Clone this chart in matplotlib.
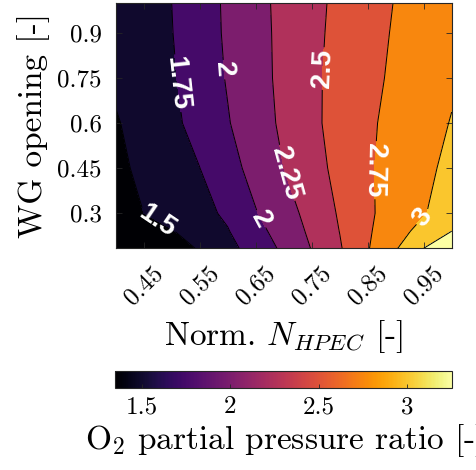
import numpy as np
import matplotlib.pyplot as plt
from matplotlib import colors, cm

plt.rcParams['font.family'] = 'serif'
plt.rcParams['font.serif'] = ['cmr10']
plt.rcParams['mathtext.fontset'] = 'cm'
plt.rcParams['axes.formatter.use_mathtext'] = True

# normalised HPEC speed (columns) and wastegate opening (rows)
n_hpec = [0.40, 0.45, 0.50, 0.55, 0.60, 0.65, 0.70, 0.75, 0.80, 0.85, 0.90, 0.95, 1.00]
wg_open = [0.183, 0.24, 0.30, 0.45, 0.60, 0.75, 0.90, 1.00]

# O2 partial pressure ratio, one row per WG opening
o2_ratio = [
    [1.35, 1.40, 1.45, 1.51, 1.679, 1.852, 2.047, 2.259, 2.478, 2.734, 2.98, 3.25, 3.27],
    [1.39, 1.439, 1.488, 1.602, 1.737, 1.92, 2.107, 2.296, 2.504, 2.72, 2.908, 3.083, 3.25],
    [1.41, 1.50, 1.589, 1.679, 1.79, 1.988, 2.153, 2.329, 2.526, 2.713, 2.853, 2.982, 3.15],
    [1.448, 1.548, 1.648, 1.748, 1.913, 2.081, 2.25, 2.41, 2.568, 2.722, 2.838, 2.946, 3.06],
    [1.49, 1.546, 1.70, 1.83, 1.985, 2.139, 2.294, 2.45, 2.586, 2.712, 2.82, 2.92, 3.01],
    [1.52, 1.623, 1.725, 1.866, 2.017, 2.163, 2.308, 2.453, 2.577, 2.689, 2.791, 2.88, 2.97],
    [1.53, 1.637, 1.743, 1.888, 2.033, 2.172, 2.309, 2.444, 2.5625, 2.67, 2.773, 2.861, 2.95],
    [1.53, 1.64, 1.75, 1.894, 2.037, 2.179, 2.3125, 2.4375, 2.552, 2.656, 2.76, 2.855, 2.93],
]

levels = [1.5, 1.75, 2.0, 2.25, 2.5, 2.75, 3.0, 3.25]
label_pos = [(0.473, 0.271), (0.509, 0.732), (0.587, 0.777), (0.656, 0.277),
             (0.694, 0.427), (0.766, 0.782), (0.856, 0.443), (0.948, 0.288)]
flip_labels = ['2.75']
xtick_vals = [0.45, 0.55, 0.65, 0.75, 0.85, 0.95]
ytick_vals = [0.3, 0.45, 0.6, 0.75, 0.9]
cbar_ticks = [1.5, 2, 2.5, 3]

X, Y = np.meshgrid(n_hpec, wg_open)
Z = np.array(o2_ratio)

# each band takes the colour of its lower level
norm = colors.Normalize(vmin=1.35, vmax=3.255)
cmap = plt.get_cmap('inferno')
fill_levels = [Z.min() - 0.01] + levels + [Z.max() + 0.01]
fill_colors = [cmap(norm(v)) for v in [Z.min()] + levels]

fig = plt.figure(figsize=(4.76, 4.70), dpi=100)
ax = fig.add_axes([0.243, 0.4717, 0.706, 0.522])
ax.contourf(X, Y, Z, levels=fill_levels, colors=fill_colors)
cs = ax.contour(X, Y, Z, levels=levels, colors='k', linewidths=0.7)

with plt.rc_context({'font.family': 'Liberation Sans', 'font.weight': 'bold'}):
    lbls = ax.clabel(cs, levels=levels[:-1], manual=label_pos, inline=True,
                     fmt='%g', fontsize=20, colors='white', inline_spacing=2)
for t in lbls:
    if t.get_text() in flip_labels:
        t.set_rotation(t.get_rotation() - 180)

ax.set_xlim(0.4, 1.0)
ax.set_ylim(0.183, 1.0)
ax.set_xticks(xtick_vals)
ax.set_xticklabels([f'{v:g}' for v in xtick_vals], rotation=45)
ax.set_yticks(ytick_vals)
ax.set_yticklabels([f'{v:g}' for v in ytick_vals])
ax.tick_params(direction='in', top=True, right=True, labelsize=18, length=4,
               width=0.6, color='#262626', pad=10)
for s in ax.spines.values():
    s.set_color('#262626')
    s.set_linewidth(0.8)
ax.set_xlabel(r'Norm. $N_{HPEC}$ [-]', fontsize=24, labelpad=6)
ax.set_ylabel('WG opening [-]', fontsize=24, labelpad=5)

cax = fig.add_axes([0.2416, 0.175, 0.7084, 0.0356])
cb = fig.colorbar(cm.ScalarMappable(norm=norm, cmap=cmap), cax=cax,
                  orientation='horizontal', ticks=cbar_ticks)
cb.ax.set_xticklabels([f'{v:g}' for v in cbar_ticks])
cb.ax.tick_params(direction='in', labelsize=18, length=3, width=0.6,
                  color='#262626', pad=6)
cb.outline.set_edgecolor('#262626')
cb.outline.set_linewidth(0.8)
cb.set_label(r'$\mathrm{O}_2$ partial pressure ratio [-]', fontsize=24, labelpad=3)

fig.savefig('out.png', dpi=100)
